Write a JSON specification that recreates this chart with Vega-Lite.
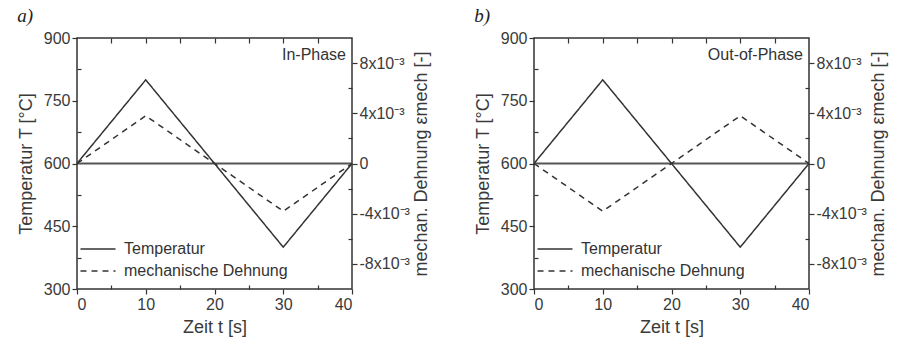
{
  "$schema": "https://vega.github.io/schema/vega-lite/v6.json",
  "background": "white",
  "padding": {"left": 16, "top": 6, "right": 0, "bottom": 0},
  "spacing": 41,
  "datasets": {
    "a": [
      {"t": 0, "temp": 600, "strain": 0},
      {"t": 10, "temp": 800, "strain": 0.0038},
      {"t": 20, "temp": 600, "strain": 0},
      {"t": 30, "temp": 400, "strain": -0.0038},
      {"t": 40, "temp": 600, "strain": 0}
    ],
    "b": [
      {"t": 0, "temp": 600, "strain": 0},
      {"t": 10, "temp": 800, "strain": -0.0038},
      {"t": 20, "temp": 600, "strain": 0},
      {"t": 30, "temp": 400, "strain": 0.0038},
      {"t": 40, "temp": 600, "strain": 0}
    ],
    "zero": [{"temp": 600}],
    "labelA": [{"t": 40, "temp": 860, "label": "In-Phase"}],
    "labelB": [{"t": 40, "temp": 860, "label": "Out-of-Phase"}]
  },
  "resolve": {"scale": {"strokeDash": "independent"}, "legend": {"strokeDash": "independent"}},
  "hconcat": [
    {
      "width": 275, "height": 251,
      "title": {"text": "a)", "anchor": "start", "font": "Liberation Serif", "fontStyle": "italic", "fontWeight": "normal", "fontSize": 19, "color": "#222", "offset": 4},
      "layer": [
        {
          "data": {"name": "zero"},
          "mark": {"type": "rule", "color": "#555", "strokeWidth": 1.8},
          "encoding": {"y": {"field": "temp", "type": "quantitative", "scale": {"domain": [300, 900], "nice": false, "zero": false}, "axis": null}}
        },
        {
          "data": {"name": "a"},
          "mark": {"type": "line", "color": "#333", "strokeWidth": 1.5},
          "encoding": {
            "x": {"field": "t", "type": "quantitative", "scale": {"domain": [0, 40], "nice": false}, "axis": {"orient": "bottom", "values": [0, 10, 20, 30, 40], "tickSize": 5, "labelPadding": 2, "title": "Zeit t [s]", "titlePadding": 6}},
            "y": {"field": "temp", "type": "quantitative", "scale": {"domain": [300, 900], "nice": false, "zero": false}, "axis": {"orient": "left", "values": [300, 450, 600, 750, 900], "tickSize": 5, "labelPadding": 2, "title": "Temperatur T [°C]", "titlePadding": 8}},
            "strokeDash": {"datum": "Temperatur", "type": "nominal", "scale": {"domain": ["Temperatur", "mechanische Dehnung"], "range": [[1, 0], [6, 5]]}, "legend": {"orient": "bottom-left", "title": null}}
          }
        },
        {
          "data": {"name": "a"},
          "mark": {"type": "line", "color": "#333", "strokeWidth": 1.5},
          "encoding": {
            "x": {"field": "t", "type": "quantitative", "scale": {"domain": [0, 40], "nice": false}, "axis": {"orient": "top", "values": [5, 10, 15, 20, 25, 30, 35], "labels": false, "tickSize": -5, "title": null}},
            "y": {"field": "strain", "type": "quantitative", "scale": {"domain": [-0.01, 0.01], "nice": false, "zero": false}, "axis": {"orient": "right", "values": [-0.008, -0.004, 0, 0.004, 0.008], "tickSize": 5, "labelPadding": 2, "labelExpr": "datum.value == 0 ? '0' : round(datum.value * 1000) + 'x10⁻³'", "title": "mechan. Dehnung εmech [-]", "titleAngle": 270, "titleBaseline": "top", "titlePadding": 3}},
            "strokeDash": {"datum": "mechanische Dehnung", "type": "nominal"}
          }
        },
        {
          "data": {"name": "a"},
          "mark": {"type": "point", "opacity": 0},
          "encoding": {
            "x": {"field": "t", "type": "quantitative", "scale": {"domain": [0, 40], "nice": false}, "axis": {"orient": "bottom", "values": [5, 15, 25, 35], "labels": false, "tickSize": -4, "title": null}},
            "y": {"field": "temp", "type": "quantitative", "scale": {"domain": [300, 900], "nice": false, "zero": false}, "axis": {"orient": "left", "values": [375, 525, 675, 825], "labels": false, "tickSize": -4, "title": null}}
          }
        },
        {
          "data": {"name": "a"},
          "mark": {"type": "point", "opacity": 0},
          "encoding": {
            "x": {"field": "t", "type": "quantitative", "scale": {"domain": [0, 40], "nice": false}, "axis": null},
            "y": {"field": "strain", "type": "quantitative", "scale": {"domain": [-0.01, 0.01], "nice": false, "zero": false}, "axis": {"orient": "right", "values": [-0.006, -0.002, 0.002, 0.006], "labels": false, "tickSize": -4, "title": null}}
          }
        },
        {
          "data": {"name": "labelA"},
          "mark": {"type": "text", "align": "right", "baseline": "middle", "dx": -6, "fontSize": 16, "color": "#333"},
          "encoding": {
            "x": {"field": "t", "type": "quantitative", "scale": {"domain": [0, 40], "nice": false}, "axis": null},
            "y": {"field": "temp", "type": "quantitative", "scale": {"domain": [300, 900], "nice": false, "zero": false}, "axis": null},
            "text": {"field": "label"}
          }
        }
      ],
      "resolve": {"scale": {"x": "independent", "y": "independent"}}
    },
    {
      "width": 275, "height": 251,
      "title": {"text": "b)", "anchor": "start", "font": "Liberation Serif", "fontStyle": "italic", "fontWeight": "normal", "fontSize": 19, "color": "#222", "offset": 4},
      "layer": [
        {
          "data": {"name": "zero"},
          "mark": {"type": "rule", "color": "#555", "strokeWidth": 1.8},
          "encoding": {"y": {"field": "temp", "type": "quantitative", "scale": {"domain": [300, 900], "nice": false, "zero": false}, "axis": null}}
        },
        {
          "data": {"name": "b"},
          "mark": {"type": "line", "color": "#333", "strokeWidth": 1.5},
          "encoding": {
            "x": {"field": "t", "type": "quantitative", "scale": {"domain": [0, 40], "nice": false}, "axis": {"orient": "bottom", "values": [0, 10, 20, 30, 40], "tickSize": 5, "labelPadding": 2, "title": "Zeit t [s]", "titlePadding": 6}},
            "y": {"field": "temp", "type": "quantitative", "scale": {"domain": [300, 900], "nice": false, "zero": false}, "axis": {"orient": "left", "values": [300, 450, 600, 750, 900], "tickSize": 5, "labelPadding": 2, "title": "Temperatur T [°C]", "titlePadding": 8}},
            "strokeDash": {"datum": "Temperatur", "type": "nominal", "scale": {"domain": ["Temperatur", "mechanische Dehnung"], "range": [[1, 0], [6, 5]]}, "legend": {"orient": "bottom-left", "title": null}}
          }
        },
        {
          "data": {"name": "b"},
          "mark": {"type": "line", "color": "#333", "strokeWidth": 1.5},
          "encoding": {
            "x": {"field": "t", "type": "quantitative", "scale": {"domain": [0, 40], "nice": false}, "axis": {"orient": "top", "values": [5, 10, 15, 20, 25, 30, 35], "labels": false, "tickSize": -5, "title": null}},
            "y": {"field": "strain", "type": "quantitative", "scale": {"domain": [-0.01, 0.01], "nice": false, "zero": false}, "axis": {"orient": "right", "values": [-0.008, -0.004, 0, 0.004, 0.008], "tickSize": 5, "labelPadding": 2, "labelExpr": "datum.value == 0 ? '0' : round(datum.value * 1000) + 'x10⁻³'", "title": "mechan. Dehnung εmech [-]", "titleAngle": 270, "titleBaseline": "top", "titlePadding": 3}},
            "strokeDash": {"datum": "mechanische Dehnung", "type": "nominal"}
          }
        },
        {
          "data": {"name": "b"},
          "mark": {"type": "point", "opacity": 0},
          "encoding": {
            "x": {"field": "t", "type": "quantitative", "scale": {"domain": [0, 40], "nice": false}, "axis": {"orient": "bottom", "values": [5, 15, 25, 35], "labels": false, "tickSize": -4, "title": null}},
            "y": {"field": "temp", "type": "quantitative", "scale": {"domain": [300, 900], "nice": false, "zero": false}, "axis": {"orient": "left", "values": [375, 525, 675, 825], "labels": false, "tickSize": -4, "title": null}}
          }
        },
        {
          "data": {"name": "b"},
          "mark": {"type": "point", "opacity": 0},
          "encoding": {
            "x": {"field": "t", "type": "quantitative", "scale": {"domain": [0, 40], "nice": false}, "axis": null},
            "y": {"field": "strain", "type": "quantitative", "scale": {"domain": [-0.01, 0.01], "nice": false, "zero": false}, "axis": {"orient": "right", "values": [-0.006, -0.002, 0.002, 0.006], "labels": false, "tickSize": -4, "title": null}}
          }
        },
        {
          "data": {"name": "labelB"},
          "mark": {"type": "text", "align": "right", "baseline": "middle", "dx": -6, "fontSize": 16, "color": "#333"},
          "encoding": {
            "x": {"field": "t", "type": "quantitative", "scale": {"domain": [0, 40], "nice": false}, "axis": null},
            "y": {"field": "temp", "type": "quantitative", "scale": {"domain": [300, 900], "nice": false, "zero": false}, "axis": null},
            "text": {"field": "label"}
          }
        }
      ],
      "resolve": {"scale": {"x": "independent", "y": "independent"}}
    }
  ],
  "config": {
    "font": "Liberation Sans",
    "view": {"stroke": "#333", "strokeWidth": 1.5},
    "axis": {"labelFont": "Liberation Sans", "titleFont": "Liberation Sans", "labelFontSize": 16, "titleFontSize": 18, "titleFontWeight": "normal", "labelColor": "#3a3a3a", "titleColor": "#3a3a3a", "tickColor": "#333", "tickWidth": 1.2, "domain": false, "grid": false},
    "legend": {"labelFont": "Liberation Sans", "labelFontSize": 16, "labelColor": "#333", "labelLimit": 0, "symbolType": "M-1.75,0H1.75", "symbolSize": 400, "symbolStrokeColor": "#333", "symbolStrokeWidth": 1.5, "offset": 10, "padding": 0, "rowPadding": 3, "labelOffset": 15},
    "text": {"font": "Liberation Sans"}
  }
}
